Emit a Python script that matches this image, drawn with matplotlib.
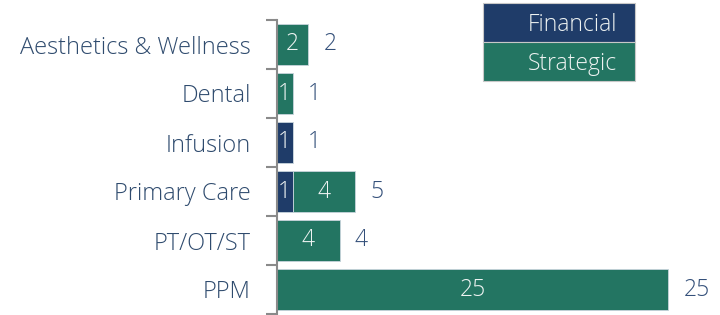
import numpy as np
import matplotlib.pyplot as plt
from matplotlib.patches import Rectangle

plt.rcParams['font.family'] = ['Open Sans', 'DejaVu Sans']

categories = ["Aesthetics & Wellness", "Dental", "Infusion", "Primary Care", "PT/OT/ST", "PPM"]
financial = [0, 0, 1, 1, 0, 0]
strategic = [2, 1, 0, 4, 4, 25]

navy = "#1f3c69"
teal = "#237562"
text_col = "#2f4b6e"

fig = plt.figure(figsize=(7.2, 3.15), dpi=100)
ax = fig.add_axes([277 / 720, 1 - 314 / 315, 1 - 277 / 720, (314 - 20) / 315])

y = np.arange(len(categories))
fin = np.array(financial)
strat = np.array(strategic)
total = fin + strat

ax.barh(y, fin, height=0.82, color=navy, edgecolor="#c8d4dc", linewidth=0.6)
ax.barh(y, strat, left=fin, height=0.82, color=teal, edgecolor="#c8d4dc", linewidth=0.6)

for i in range(len(categories)):
    if fin[i] > 0:
        ax.text(fin[i] / 2, y[i], str(fin[i]), ha="center", va="center",
                color="#eef3f2", fontsize=16.5, fontweight="light")
    if strat[i] > 0:
        ax.text(fin[i] + strat[i] / 2, y[i], str(strat[i]), ha="center", va="center",
                color="#eef3f2", fontsize=16.5, fontweight="light")
    ax.annotate(str(total[i]), (total[i], y[i]), xytext=(11, 0), textcoords="offset points",
                ha="left", va="center", color="#34507a", fontsize=16.5, fontweight="light")

ax.set_xlim(0, 28.3)
ax.set_ylim(len(categories) - 0.5, -0.5)
ax.set_xticks([])
ax.set_yticks(np.arange(-0.5, len(categories) + 0.5, 1))
ax.set_yticklabels([])
ax.set_yticks(y, minor=True)
ax.set_yticklabels(categories, minor=True, color=text_col, fontsize=17, fontweight="light")
ax.tick_params(axis="y", which="major", length=8, width=1.5, color="#8a8a8a")
ax.tick_params(axis="y", which="minor", length=0, pad=19)
for s in ["top", "right", "bottom"]:
    ax.spines[s].set_visible(False)
ax.spines["left"].set_color("#8a8a8a")
ax.spines["left"].set_linewidth(1.5)

# legend boxes
W, H = 720, 315
for k, (lab, col) in enumerate([("Financial", navy), ("Strategic", teal)]):
    y0 = 3 + k * 39
    fig.patches.append(Rectangle((483 / W, 1 - (y0 + 39) / H), 152 / W, 39 / H,
                                 transform=fig.transFigure, facecolor=col,
                                 edgecolor="#c8c8c8", linewidth=0.8))
    fig.text(572 / W, 1 - (y0 + 22) / H, lab, ha="center", va="center",
             color="#eef3f2", fontsize=16.5, fontweight="light")

fig.savefig("out.png", dpi=100)
